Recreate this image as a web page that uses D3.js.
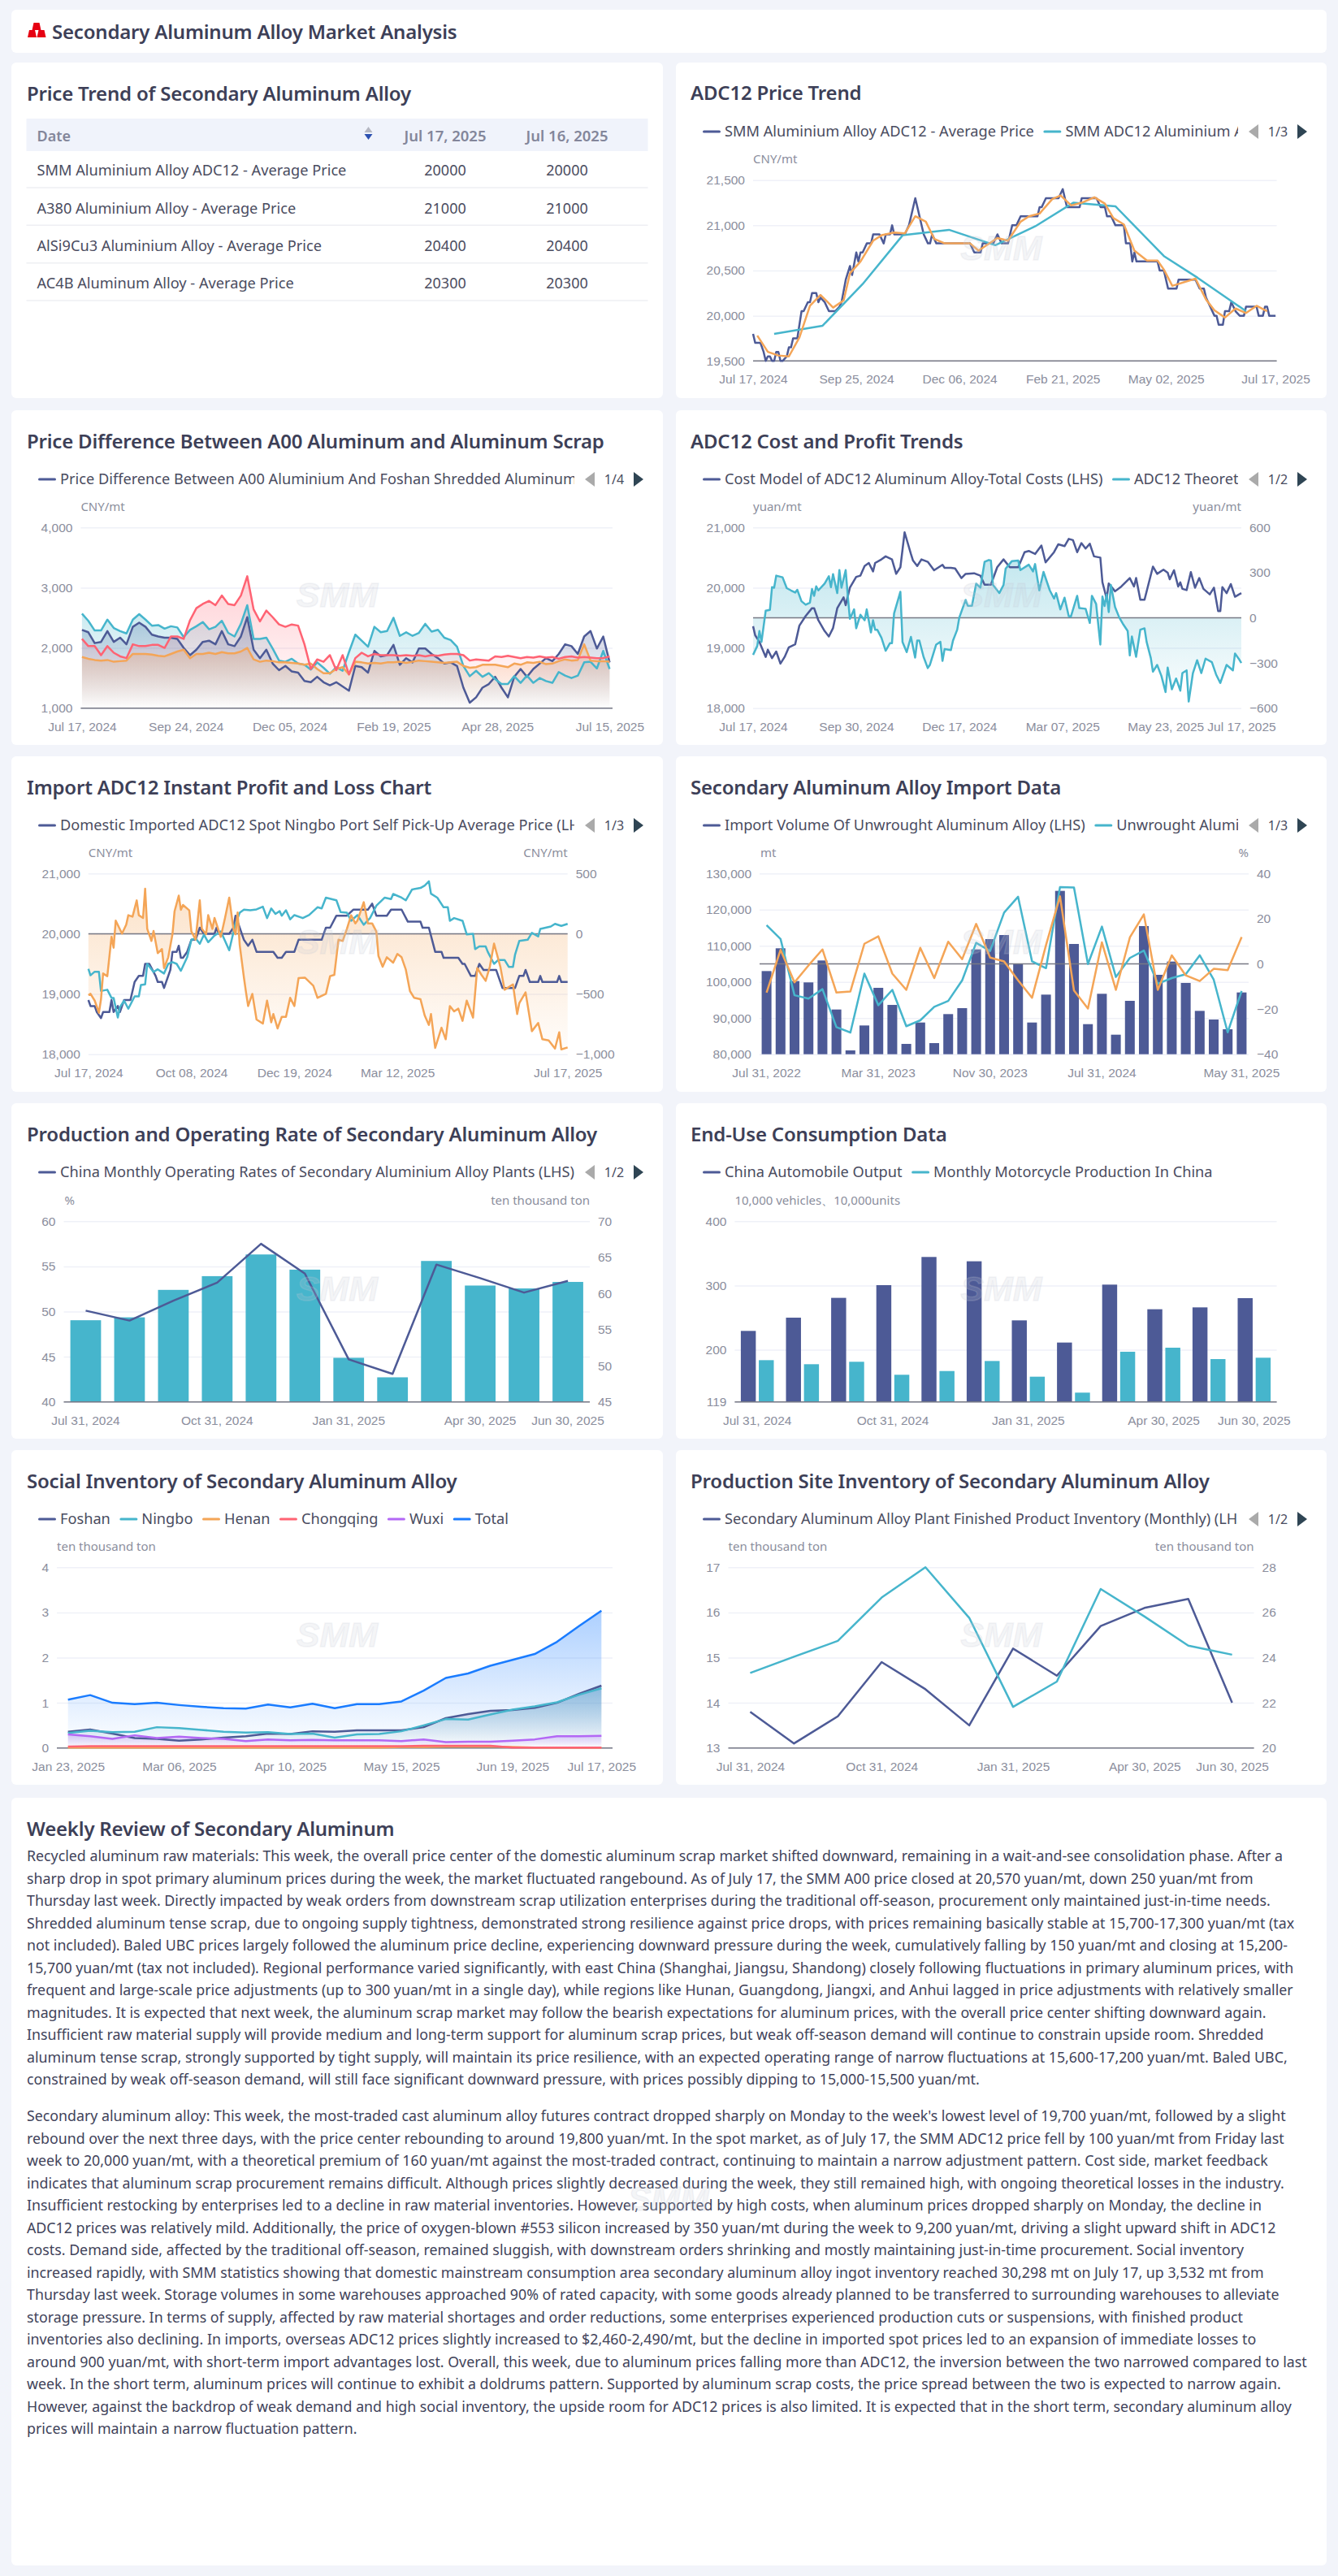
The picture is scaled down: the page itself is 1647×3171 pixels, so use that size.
<!DOCTYPE html>
<html>
<head>
<meta charset="utf-8">
<script src="https://cdn.jsdelivr.net/npm/d3@7"></script>
<style>
  html, body { margin: 0; padding: 0; background: #f2f4fa; }
  svg { display: block; font-family: "Noto Sans", sans-serif; }
</style>
</head>
<body>
<script>
// ---- data ----
const tableDates = ["Jul 17, 2025", "Jul 16, 2025"];
const tableNames = ["SMM Aluminium Alloy ADC12 - Average Price", "A380 Aluminium Alloy - Average Price", "AlSi9Cu3 Aluminium Alloy - Average Price", "AC4B Aluminum Alloy - Average Price"];
const tableToday = [20000, 21000, 20400, 20300];
const tableYesterday = [20000, 21000, 20400, 20300];

// trading day index, price
const adcSpot = [[0,19800],[1,19700],[3.5,19700],[5,19600],[6,19500],[7,19550],[8,19550],[9,19500],[10,19500],[11,19600],[12,19600],[13,19500],[14,19500],[16,19550],[17,19650],[18,19650],[19,19750],[21,19750],[22,19900],[23,20050],[24,20050],[26,20150],[27,20150],[28,20250],[30,20250],[31,20150],[32,20200],[34,20150],[36,20050],[39,20050],[41,20100],[42,20150],[44,20400],[46,20550],[47,20450],[49,20700],[50,20600],[51,20700],[52,20700],[54,20800],[56,20800],[57,20900],[60,20900],[62,20800],[63,20900],[65,20900],[66,21000],[67,20900],[72,20900],[74,21000],[77,21300],[79,21100],[81,20900],[83,20800],[84,20800],[85,20900],[87,20800],[103,20800],[105,20700],[108,20700],[109,20800],[114,20800],[116,20900],[118,20800],[121,20800],[123,21000],[125,21000],[127,21100],[135,21100],[136,21200],[137,21200],[139,21300],[145,21300],[147,21400],[148,21300],[149,21200],[155,21200],[156,21300],[163,21300],[165,21200],[167,21200],[168,21100],[170,21100],[172,21000],[176,21000],[177,20800],[179,20800],[180,20600],[181,20700],[182,20600],[192,20600],[193,20500],[195,20500],[197,20300],[201,20300],[202,20400],[210,20400],[212,20300],[214,20300],[215,20200],[217,20100],[219,20000],[220,20000],[221,19900],[223,19900],[224,20050],[226,20050],[227,20150],[229,20050],[231,20000],[233,20000],[234,20100],[239,20100],[240,20000],[242,20000],[243,20100],[244,20100],[245,20000],[248,20000]];
const adcMonthly = [[10,19800],[33,19890],[52,20350],[71,20890],[93,20950],[115,20780],[134,20990],[152,21250],[172,21210],[195,20660],[211,20420],[234,20050]];
const adcWeekly = [[2,19780],[7,19600],[12,19560],[17,19550],[22,19760],[27,20110],[32,20230],[38,20090],[43,20170],[46,20470],[51,20600],[57,20830],[61,20890],[67,20920],[72,20910],[77,21100],[82,21040],[86,20850],[91,20800],[103,20800],[107,20720],[116,20860],[121,20830],[127,21040],[131,21100],[136,21130],[142,21290],[146,21330],[151,21220],[156,21250],[162,21310],[167,21240],[171,21080],[176,21010],[181,20720],[187,20610],[192,20610],[195,20510],[199,20330],[210,20410],[215,20180],[219,20060],[224,19980],[229,20080],[234,20030],[239,20110],[244,20050]];

// sampled every third trading day
const diffFoshan = [2300,2260,2080,2100,2280,2100,2170,2060,2350,2420,2350,2220,2190,2170,2170,2150,2000,1880,1970,2100,2120,2060,2280,2060,2030,2190,2510,1970,1830,1970,1740,1630,1700,1610,1590,1450,1430,1520,1430,1380,1430,1360,1290,1700,1680,1590,1950,1860,1880,2050,1720,1830,1760,1990,1990,1900,1830,1740,1760,1700,1340,1090,1180,1340,1400,1520,1340,1180,1520,1650,1520,1650,1740,1830,1780,1900,2060,2030,1900,2190,2280,1990,2190,1760];
const diffNingbo = [2570,2450,2290,2290,2470,2330,2280,2240,2470,2560,2470,2370,2380,2320,2360,2340,2180,2300,2360,2430,2310,2350,2450,2250,2190,2400,2710,2150,2150,2170,1990,1790,1770,1820,1740,1720,1640,1760,1670,1570,1680,1620,1930,2220,2120,2020,2350,2260,2280,2500,2200,2260,2200,2250,2400,2270,2300,2170,2130,2020,1700,1530,1620,1520,1580,1480,1400,1400,1530,1420,1540,1420,1500,1450,1420,1600,1540,1500,1540,1760,1770,1660,1950,1650];
const diffHenan = [1850,1820,1800,1790,1800,1770,1780,1790,1900,1900,1900,1890,1870,1860,1900,1940,1970,1830,1900,1900,1920,1900,1930,1910,1910,1940,2000,1810,1770,1790,1780,1760,1760,1750,1740,1720,1740,1650,1580,1580,1650,1680,1560,1770,1760,1740,1750,1740,1760,1760,1770,1750,1770,1790,1780,1770,1760,1750,1760,1770,1700,1670,1680,1720,1720,1720,1700,1680,1740,1720,1760,1750,1770,1730,1740,1780,1810,1790,1800,2060,1790,1780,1780,1770];
const diffChongqing = [2150,2030,2030,1880,2030,1920,1860,1830,2060,2030,2030,2050,2050,2000,2190,2190,2150,2460,2660,2730,2780,2710,2870,2730,2710,2870,3190,2640,2440,2620,2510,2390,2350,2390,2370,2060,1650,1810,1770,1880,1630,1880,1560,1830,1920,1860,1900,1880,1880,1880,1870,1880,1870,1880,1860,1880,1870,1890,1900,1900,1880,1790,1810,1800,1790,1860,1850,1870,1850,1830,1850,1840,1860,1840,1850,1820,1850,1860,1840,1850,1840,1830,1830,1860];

const costTotal = [[0,19360],[1,19210],[3,19100],[6,18850],[7,18970],[9,18830],[11,18940],[13,18740],[15,18850],[17,19010],[20,19060],[22,19370],[25,19530],[28,19660],[29,19660],[31,19460],[34,19280],[36,19190],[38,19330],[40,19660],[43,19840],[44,19710],[46,20000],[49,20180],[51,20200],[53,20360],[55,20410],[57,20270],[58,20410],[61,20470],[63,20520],[66,20470],[68,20230],[70,20340],[72,20920],[75,20560],[76,20450],[78,20360],[80,20470],[83,20430],[86,20290],[90,20380],[91,20330],[94,20330],[96,20320],[99,20160],[101,20230],[105,20240],[108,20200],[110,20050],[113,20050],[116,20340],[119,20470],[122,20340],[126,20340],[129,20590],[131,20610],[134,20560],[137,20700],[139,20420],[143,20590],[145,20720],[148,20690],[150,20810],[152,20790],[154,20590],[156,20740],[158,20650],[160,20730],[162,20520],[165,20500],[166,20090],[168,19820],[169,20070],[172,19940],[175,20020],[179,20160],[181,20020],[182,20160],[184,19800],[186,19800],[190,20350],[192,20230],[195,20300],[197,20250],[198,20140],[200,20290],[202,20020],[203,20090],[204,19980],[206,19960],[208,20260],[210,20000],[212,20160],[214,19980],[217,19890],[219,20000],[221,19610],[222,19610],[223,20010],[225,19910],[227,20060],[229,19850],[232,19910]];
const costProfit = [[0,-246],[2,-187],[3,-88],[4,-160],[6,47],[8,53],[9,204],[10,200],[11,280],[14,269],[16,197],[18,182],[20,168],[21,186],[23,110],[25,87],[27,101],[28,191],[29,146],[30,209],[31,182],[34,227],[36,276],[37,204],[38,290],[40,164],[41,317],[42,200],[44,317],[45,146],[46,-7],[48,56],[49,-70],[51,20],[53,-16],[54,56],[56,-97],[57,-16],[58,-79],[59,-79],[61,-133],[63,-219],[65,-169],[66,-169],[67,29],[70,173],[71,-160],[73,-228],[75,-127],[77,-264],[78,-151],[79,-151],[81,-259],[83,-334],[84,-313],[87,-178],[89,-160],[90,-286],[91,-208],[94,-214],[95,-151],[97,-79],[98,2],[101,119],[102,80],[104,80],[106,227],[108,200],[110,371],[112,384],[113,380],[114,218],[117,164],[119,218],[120,326],[123,377],[126,380],[127,317],[131,353],[133,308],[134,357],[136,182],[138,305],[141,182],[143,128],[144,164],[146,56],[148,134],[150,11],[151,8],[154,146],[155,65],[158,60],[160,-34],[161,146],[163,92],[165,-178],[166,141],[167,78],[168,155],[169,38],[170,218],[172,71],[174,2],[176,-46],[178,-88],[179,-250],[180,-124],[182,-259],[184,-79],[186,-70],[187,-160],[189,-268],[190,-358],[192,-313],[194,-385],[196,-493],[197,-331],[199,-475],[201,-403],[203,-484],[204,-367],[206,-349],[207,-556],[209,-367],[211,-282],[213,-367],[215,-271],[218,-295],[220,-376],[222,-433],[225,-313],[228,-349],[229,-237],[231,-277],[232,-300]];

const importNingbo = [[0,18900],[1,18800],[3,18800],[4,18700],[6,18600],[7,18700],[10,18700],[11,18900],[12,18700],[14,18800],[15,18700],[17,18900],[20,18900],[22,19200],[24,19300],[26,19300],[27,19500],[29,19500],[32,19300],[33,19200],[35,19200],[36,19100],[39,19400],[40,19700],[42,19700],[43,19800],[44,19600],[45,19600],[47,19700],[49,19900],[51,19900],[53,20100],[55,20000],[60,20000],[61,20100],[62,20000],[67,20000],[69,20100],[70,20300],[74,19900],[76,19800],[78,19900],[80,19700],[88,19700],[90,19600],[92,19600],[94,19700],[98,19700],[100,19900],[111,19900],[113,20100],[115,20100],[118,20300],[123,20300],[126,20400],[133,20400],[135,20500],[137,20300],[142,20300],[144,20400],[149,20400],[152,20200],[158,20200],[159,20100],[162,20100],[165,19700],[168,19700],[169,19600],[176,19600],[178,19500],[179,19500],[182,19300],[184,19300],[186,19500],[188,19400],[194,19400],[195,19300],[197,19100],[203,19100],[205,19300],[207,19300],[208,19400],[210,19200],[214,19200],[215,19300],[216,19200],[223,19200],[224,19300],[225,19200],[228,19200]];
const importSpot = [[0,19417],[1,19310],[3,19370],[5,19370],[6,19050],[9,19070],[11,18935],[12,18935],[14,18610],[15,18780],[17,18890],[19,18755],[22,18960],[24,18960],[25,19150],[27,19160],[28,19500],[31,19365],[33,19410],[36,19340],[38,19500],[40,19530],[42,19500],[44,19385],[47,19610],[49,19900],[51,19925],[53,19835],[55,19985],[57,19860],[60,19970],[63,20040],[67,19725],[70,20170],[72,20350],[74,20400],[77,20390],[80,20405],[83,20450],[85,20260],[87,20420],[89,20330],[91,20375],[92,20300],[94,20390],[96,20240],[98,20310],[102,20260],[105,20310],[109,20440],[111,20420],[113,20600],[118,20555],[120,20360],[123,20350],[125,20215],[128,20310],[131,20150],[134,20260],[137,20465],[141,20600],[144,20575],[145,20660],[149,20600],[151,20555],[154,20735],[158,20760],[160,20800],[162,20870],[163,20665],[166,20600],[169,20440],[171,20440],[172,20215],[174,20260],[178,20215],[180,19990],[183,20000],[184,19745],[186,19790],[189,19790],[190,19700],[193,19500],[195,19565],[198,19565],[200,19450],[202,19450],[203,19655],[205,19880],[209,19900],[211,20015],[214,19955],[215,20080],[220,20120],[222,20165],[225,20130],[228,20165]];
const importProfit = [[0,-510],[1,-499],[3,-555],[5,-656],[6,-544],[7,-330],[9,-352],[11,-26],[12,-116],[13,109],[16,1],[18,75],[19,154],[21,142],[23,277],[24,154],[26,131],[27,374],[28,41],[30,-60],[31,23],[33,-161],[35,-127],[36,-285],[38,-195],[40,-4],[41,187],[43,316],[44,199],[45,239],[48,194],[49,19],[51,-49],[53,277],[54,41],[56,-4],[57,154],[59,41],[60,131],[63,-26],[65,131],[67,300],[69,41],[70,-4],[71,176],[72,-94],[74,-364],[75,-487],[76,-600],[78,-499],[80,-712],[83,-746],[85,-555],[87,-735],[88,-667],[90,-786],[92,-690],[94,-690],[96,-532],[98,-600],[100,-368],[103,-364],[107,-431],[109,-532],[113,-499],[115,-352],[117,-341],[119,-49],[121,-60],[123,41],[125,154],[127,86],[128,109],[131,262],[133,86],[135,86],[137,19],[138,-184],[140,-274],[142,-195],[145,-240],[147,-168],[149,-195],[151,-296],[153,-476],[155,-532],[158,-544],[160,-678],[162,-757],[163,-667],[165,-948],[168,-780],[170,-876],[172,-600],[174,-645],[176,-622],[178,-723],[180,-555],[183,-696],[185,-285],[187,-341],[189,-391],[191,-274],[193,-82],[196,-274],[198,-465],[202,-420],[204,-667],[205,-577],[208,-487],[211,-809],[214,-741],[216,-876],[219,-885],[222,-953],[224,-818],[225,-960],[228,-944]];

const importVolume = [103010,109310,100240,99870,105940,92370,81050,87950,98370,93640,82850,88770,83070,91100,92750,109010,111860,112980,104960,88770,96490,125200,110510,88320,96720,85400,94770,115460,101970,105640,99720,91990,89600,86900,97090];
const importYoy = [17.1,11,-13.9,-15.4,-11.2,-28,-30.4,-4.3,-18.3,-11.5,-27.6,-25,-19,-16.4,-7.3,9.3,5.7,22.7,29.7,1.1,-1.9,34,33.8,-0.1,16.5,-5.8,2.6,5.9,-8.8,-6.3,-4.6,3.8,-7,-30.3,-12];
const importMom = [-12.7,6.2,-8.2,-0.7,6.4,-12.7,-12.2,8.9,12.2,-4.3,-11.5,7.1,-6.3,9.8,2.1,17.7,2.8,1.1,-7.3,-15,8.3,29.9,-11.8,-19.8,9.5,-11.5,11.7,21.9,-11.5,3.8,-5.1,-7.6,-2.2,-2.8,11.9];

const operatingRate = [50.1,49,51.2,53.2,57.5,54.2,44.7,43.1,55.2,53.7,52.1,53.4];
const alloyOutput = [56.3,56.7,60.5,62.4,65.4,63.3,51.1,48.4,64.5,61.1,60.7,61.6];
const autoOutput = [229.4,250,280.8,300.6,344.4,337.7,245.8,211.3,301.4,263.1,266,280.4];
const motoOutput = [183.9,177.6,181.4,161.2,167,182.6,158.2,133.4,197,203.3,185.6,187.7];

const invFoshan = [.36,.41,.32,.22,.2,.16,.19,.23,.26,.32,.31,.37,.36,.39,.39,.39,.46,.66,.75,.82,.84,.89,1,1.2,1.38];
const invNingbo = [.33,.38,.35,.36,.46,.44,.4,.36,.34,.35,.31,.32,.23,.3,.31,.37,.5,.64,.63,.74,.85,.92,1.01,1.18,1.32];
const invHenan = [.01,.01,.01,.01,.01,.01,.01,.01,.01,.01,.01,.01,.01,.01,.01,.02,.02,.03,.03,.03,.02,.01,.01,.01,.01];
const invChongqing = [.03,.04,.04,.04,.04,.04,.04,.04,.04,.04,.04,.04,.04,.04,.04,.04,.05,.05,.05,.05,.01,.01,.01,.01,.01];
const invWuxi = [.3,.26,.2,.28,.22,.25,.22,.2,.15,.19,.17,.18,.17,.17,.17,.15,.19,.13,.14,.14,.16,.19,.26,.26,.27];
const invTotal = [1.07,1.17,1,.97,1,.95,.91,.88,.87,.96,.9,.98,.88,.97,.97,1.03,1.27,1.55,1.65,1.82,1.95,2.08,2.35,2.7,3.04];

const plantInventory = [13.8,13.1,13.7,14.9,14.3,13.5,15.2,14.6,15.7,16.1,16.3,14];
const rawInventory = [23.32,24.04,24.74,26.66,28,25.76,21.82,22.94,27.04,25.82,24.53,24.13];

const reviewPara1 = [
  "Recycled aluminum raw materials: This week, the overall price center of the domestic aluminum scrap market shifted downward, remaining in a wait-and-see consolidation phase. After a",
  "sharp drop in spot primary aluminum prices during the week, the market fluctuated rangebound. As of July 17, the SMM A00 price closed at 20,570 yuan/mt, down 250 yuan/mt from",
  "Thursday last week. Directly impacted by weak orders from downstream scrap utilization enterprises during the traditional off-season, procurement only maintained just-in-time needs.",
  "Shredded aluminum tense scrap, due to ongoing supply tightness, demonstrated strong resilience against price drops, with prices remaining basically stable at 15,700-17,300 yuan/mt (tax",
  "not included). Baled UBC prices largely followed the aluminum price decline, experiencing downward pressure during the week, cumulatively falling by 150 yuan/mt and closing at 15,200-",
  "15,700 yuan/mt (tax not included). Regional performance varied significantly, with east China (Shanghai, Jiangsu, Shandong) closely following fluctuations in primary aluminum prices, with",
  "frequent and large-scale price adjustments (up to 300 yuan/mt in a single day), while regions like Hunan, Guangdong, Jiangxi, and Anhui lagged in price adjustments with relatively smaller",
  "magnitudes. It is expected that next week, the aluminum scrap market may follow the bearish expectations for aluminum prices, with the overall price center shifting downward again.",
  "Insufficient raw material supply will provide medium and long-term support for aluminum scrap prices, but weak off-season demand will continue to constrain upside room. Shredded",
  "aluminum tense scrap, strongly supported by tight supply, will maintain its price resilience, with an expected operating range of narrow fluctuations at 15,600-17,200 yuan/mt. Baled UBC,",
  "constrained by weak off-season demand, will still face significant downward pressure, with prices possibly dipping to 15,000-15,500 yuan/mt."
];
const reviewPara2 = [
  "Secondary aluminum alloy: This week, the most-traded cast aluminum alloy futures contract dropped sharply on Monday to the week's lowest level of 19,700 yuan/mt, followed by a slight",
  "rebound over the next three days, with the price center rebounding to around 19,800 yuan/mt. In the spot market, as of July 17, the SMM ADC12 price fell by 100 yuan/mt from Friday last",
  "week to 20,000 yuan/mt, with a theoretical premium of 160 yuan/mt against the most-traded contract, continuing to maintain a narrow adjustment pattern. Cost side, market feedback",
  "indicates that aluminum scrap procurement remains difficult. Although prices slightly decreased during the week, they still remained high, with ongoing theoretical losses in the industry.",
  "Insufficient restocking by enterprises led to a decline in raw material inventories. However, supported by high costs, when aluminum prices dropped sharply on Monday, the decline in",
  "ADC12 prices was relatively mild. Additionally, the price of oxygen-blown #553 silicon increased by 350 yuan/mt during the week to 9,200 yuan/mt, driving a slight upward shift in ADC12",
  "costs. Demand side, affected by the traditional off-season, remained sluggish, with downstream orders shrinking and mostly maintaining just-in-time procurement. Social inventory",
  "increased rapidly, with SMM statistics showing that domestic mainstream consumption area secondary aluminum alloy ingot inventory reached 30,298 mt on July 17, up 3,532 mt from",
  "Thursday last week. Storage volumes in some warehouses approached 90% of rated capacity, with some goods already planned to be transferred to surrounding warehouses to alleviate",
  "storage pressure. In terms of supply, affected by raw material shortages and order reductions, some enterprises experienced production cuts or suspensions, with finished product",
  "inventories also declining. In imports, overseas ADC12 prices slightly increased to $2,460-2,490/mt, but the decline in imported spot prices led to an expansion of immediate losses to",
  "around 900 yuan/mt, with short-term import advantages lost. Overall, this week, due to aluminum prices falling more than ADC12, the inversion between the two narrowed compared to last",
  "week. In the short term, aluminum prices will continue to exhibit a doldrums pattern. Supported by aluminum scrap costs, the price spread between the two is expected to narrow again.",
  "However, against the backdrop of weak demand and high social inventory, the upside room for ADC12 prices is also limited. It is expected that in the short term, secondary aluminum alloy",
  "prices will maintain a narrow fluctuation pattern."
];

// ---- styling ----
const NAVY = "#4d5a96", TEAL = "#46b5cc", ORANGE = "#f4a557", RED = "#ff6373", PURPLE = "#b368f5", BLUE = "#1a7cff";
const TITLE_COLOR = "#3d3f57", LABEL_COLOR = "#8b8e9d", GRID = "#eff1f8", AXIS = "#777985", TEXT_COLOR = "#41435a";

const svg = d3.select("body").append("svg").attr("width", 1647).attr("height", 3171);
const defs = svg.append("defs");
let uid = 0;

svg.append("rect").attr("width", 1647).attr("height", 3171).attr("fill", "#f2f4fa");

function drawCard(x, y, w, h) {
  svg.append("rect").attr("x", x).attr("y", y).attr("width", w).attr("height", h)
    .attr("rx", 6).attr("fill", "#fff");
}

function drawTitle(x, y, text) {
  svg.append("text").attr("x", x).attr("y", y).attr("dy", ".35em")
    .attr("font-size", 24).attr("font-weight", 600).attr("fill", TITLE_COLOR)
    .style("letter-spacing", "-0.2px").text(text);
}

function drawWatermark(cx, cy) {
  svg.append("text").attr("x", cx).attr("y", cy).attr("dy", ".36em").attr("text-anchor", "middle")
    .attr("font-family", '"Liberation Sans", sans-serif').attr("font-size", 43)
    .attr("font-weight", 700).attr("font-style", "italic")
    .attr("fill", "#c6cad6").attr("fill-opacity", .2)
    .attr("stroke", "#c6cad6").attr("stroke-opacity", .2).attr("stroke-width", 1.5).text("SMM");
}

function drawLegend(card, entries, page) {
  const id = "legend" + (++uid);
  const right = page ? card.x + card.w - 109 : card.x + card.w - 10;
  defs.append("clipPath").attr("id", id).append("rect")
    .attr("x", card.x + 30).attr("y", card.y + 70).attr("width", right - card.x - 30).attr("height", 30);
  const g = svg.append("g").attr("clip-path", `url(#${id})`);
  const y = card.y + 85;
  let x = card.x + 34.5;
  entries.forEach(e => {
    g.append("line").attr("x1", x).attr("x2", x + 19).attr("y1", y).attr("y2", y)
      .attr("stroke", e.color).attr("stroke-width", 3).attr("stroke-linecap", "round");
    const t = g.append("text").attr("x", x + 25.5).attr("y", y).attr("dy", ".35em")
      .attr("font-size", 18.2).attr("fill", "#4a4c60").text(e.name);
    x += 25.5 + t.node().getComputedTextLength() + 13;
  });
  if (page) {
    const r = card.x + card.w;
    svg.append("path").attr("d", `M${r - 84},${y - 9}L${r - 96},${y}L${r - 84},${y + 9}Z`).attr("fill", "#aaa");
    svg.append("text").attr("x", r - 60).attr("y", y).attr("dy", ".35em").attr("text-anchor", "middle")
      .attr("font-size", 16).attr("fill", "#4a4c60").text(page);
    svg.append("path").attr("d", `M${r - 36},${y - 9}L${r - 24},${y}L${r - 36},${y + 9}Z`).attr("fill", "#2f4554");
  }
}

function styleAxisText(g) {
  g.selectAll("text").attr("fill", LABEL_COLOR).attr("font-size", 15.5).attr("font-family", null);
}

function drawLeftAxis(plot, y, ticks, fmt) {
  const g = svg.append("g").attr("transform", `translate(${plot.left},0)`)
    .call(d3.axisLeft(y).tickValues(ticks).tickSize(-(plot.right - plot.left)).tickPadding(10).tickFormat(fmt || d3.format(",")));
  g.select(".domain").remove();
  g.selectAll("line").attr("stroke", GRID).attr("stroke-width", 1.5);
  styleAxisText(g);
}

function drawRightAxis(plot, y, ticks, fmt) {
  const g = svg.append("g").attr("transform", `translate(${plot.right},0)`)
    .call(d3.axisRight(y).tickValues(ticks).tickSize(0).tickPadding(10).tickFormat(fmt || d3.format(",")));
  g.select(".domain").remove();
  styleAxisText(g);
}

function drawBottomAxis(plot, x, ticks, labels) {
  const g = svg.append("g").attr("transform", `translate(0,${plot.bottom})`)
    .call(d3.axisBottom(x).tickValues(ticks).tickSize(0).tickPadding(17).tickFormat((d, i) => labels[i]));
  g.select(".domain").remove();
  styleAxisText(g);
}

function drawBaseline(plot, y) {
  svg.append("line").attr("x1", plot.left).attr("x2", plot.right).attr("y1", y).attr("y2", y)
    .attr("stroke", AXIS).attr("stroke-width", 1.5);
}

function drawUnits(plot, y, left, right, leftX, rightX) {
  if (left) svg.append("text").attr("x", leftX === undefined ? plot.left : leftX).attr("y", y).attr("dy", ".35em")
    .attr("font-size", 15).attr("fill", LABEL_COLOR).text(left);
  if (right) svg.append("text").attr("x", rightX === undefined ? plot.right : rightX).attr("y", y).attr("dy", ".35em")
    .attr("text-anchor", "end").attr("font-size", 15).attr("fill", LABEL_COLOR).text(right);
}

function gradient(color, top, bottom) {
  const id = "grad" + (++uid);
  const lg = defs.append("linearGradient").attr("id", id).attr("x1", 0).attr("y1", 0).attr("x2", 0).attr("y2", 1);
  lg.append("stop").attr("offset", 0).attr("stop-color", color).attr("stop-opacity", top);
  lg.append("stop").attr("offset", 1).attr("stop-color", color).attr("stop-opacity", bottom);
  return `url(#${id})`;
}

// data is a list of [x, value] pairs
function drawLine(data, x, y, color) {
  svg.append("path").datum(data).attr("fill", "none").attr("stroke", color).attr("stroke-width", 2.5)
    .attr("stroke-linejoin", "round")
    .attr("d", d3.line().x(d => x(d[0])).y(d => y(d[1])));
}

function drawArea(data, x, y, base, color, top, bottom) {
  svg.append("path").datum(data).attr("fill", gradient(color, top, bottom))
    .attr("d", d3.area().x(d => x(d[0])).y0(base).y1(d => y(d[1])));
}

const every3 = arr => arr.map((v, i) => [i * 3, v]);
const byIndex = arr => arr.map((v, i) => [i, v]);

// ---- page header ----
drawCard(14, 12, 1619, 53);
[[45, 28], [39.5, 37], [51, 37]].forEach(([a, b]) => {
  svg.append("path").attr("d", `M${a - 3.5},${b}h7l2,9h-11z`).attr("fill", "#e60012");
});
drawTitle(64, 40, "Secondary Aluminum Alloy Market Analysis");

// ---- price table ----
const cardA = { x: 14, y: 77, w: 802, h: 413 };
drawCard(cardA.x, cardA.y, cardA.w, cardA.h);
drawTitle(33, 116, "Price Trend of Secondary Aluminum Alloy");
svg.append("rect").attr("x", 32.5).attr("y", 146).attr("width", 765).attr("height", 40).attr("fill", "#f0f3fb");
svg.append("text").attr("x", 45.5).attr("y", 168).attr("dy", ".35em").attr("font-size", 18).attr("font-weight", 600)
  .attr("fill", "#83869a").text("Date");
svg.append("path").attr("d", "M453.5,156l5,7h-10z").attr("fill", "#b5b7c2");
svg.append("path").attr("d", "M453.5,172l5,-7h-10z").attr("fill", "#2c50b0");
const colX = d3.scalePoint().domain(tableDates).range([548, 698]);
tableDates.forEach(d => {
  svg.append("text").attr("x", colX(d)).attr("y", 168).attr("dy", ".35em").attr("text-anchor", "middle")
    .attr("font-size", 18.5).attr("font-weight", 600).attr("fill", "#83869a").text(d);
});
const rowY = d3.scalePoint().domain(tableNames).range([210, 349]);
tableNames.forEach((name, i) => {
  const y = rowY(name);
  svg.append("text").attr("x", 45.5).attr("y", y).attr("dy", ".35em").attr("font-size", 18.2).attr("fill", "#4a4c60").text(name);
  svg.append("text").attr("x", colX(tableDates[0])).attr("y", y).attr("dy", ".35em").attr("text-anchor", "middle")
    .attr("font-size", 18).attr("fill", "#4a4c60").text(tableToday[i]);
  svg.append("text").attr("x", colX(tableDates[1])).attr("y", y).attr("dy", ".35em").attr("text-anchor", "middle")
    .attr("font-size", 18).attr("fill", "#4a4c60").text(tableYesterday[i]);
  svg.append("line").attr("x1", 32.5).attr("x2", 797.5).attr("y1", y + 21).attr("y2", y + 21)
    .attr("stroke", "#eeeff3").attr("stroke-width", 1.5);
});

// ---- ADC12 price trend ----
{
  const card = { x: 832, y: 77, w: 801, h: 413 };
  const plot = { left: 927, right: 1571.6, top: 221.7, bottom: 444.3 };
  drawCard(card.x, card.y, card.w, card.h);
  drawTitle(850, 115, "ADC12 Price Trend");
  drawLegend(card, [{ name: "SMM Aluminium Alloy ADC12 - Average Price", color: NAVY }, { name: "SMM ADC12 Aluminium A", color: TEAL }], "1/3");
  drawUnits(plot, 196, "CNY/mt");
  const x = d3.scaleLinear().domain([0, 248]).range([plot.left, plot.right - 1.5]);
  const y = d3.scaleLinear().domain([19500, 21500]).range([plot.bottom, plot.top]);
  drawLeftAxis(plot, y, [19500, 20000, 20500, 21000, 21500]);
  drawBaseline(plot, plot.bottom);
  drawBottomAxis(plot, x, [0, 49, 98, 147, 196, 248], ["Jul 17, 2024", "Sep 25, 2024", "Dec 06, 2024", "Feb 21, 2025", "May 02, 2025", "Jul 17, 2025"]);
  drawLine(adcSpot, x, y, NAVY);
  drawLine(adcMonthly, x, y, TEAL);
  drawLine(adcWeekly, x, y, ORANGE);
  drawWatermark(card.x + card.w / 2, card.y + card.h / 2 + 21);
}

// ---- A00 / scrap price difference ----
{
  const card = { x: 14, y: 505, w: 802, h: 412 };
  const plot = { left: 99.4, right: 754, top: 649.3, bottom: 871.7 };
  drawCard(card.x, card.y, card.w, card.h);
  drawTitle(33, 544, "Price Difference Between A00 Aluminum and Aluminum Scrap");
  drawLegend(card, [{ name: "Price Difference Between A00 Aluminium And Foshan Shredded Aluminum T", color: NAVY }], "1/4");
  drawUnits(plot, 624, "CNY/mt");
  const x = d3.scaleLinear().domain([0, 250]).range([plot.left + 1.5, plot.right - 1]);
  const y = d3.scaleLinear().domain([1000, 4000]).range([plot.bottom, plot.top]);
  drawLeftAxis(plot, y, [1000, 2000, 3000, 4000]);
  const series = [[diffFoshan, NAVY], [diffNingbo, TEAL], [diffHenan, ORANGE], [diffChongqing, RED]];
  series.forEach(([s, c]) => drawArea(every3(s), x, y, plot.bottom, c, .3, 0));
  drawBaseline(plot, plot.bottom);
  drawBottomAxis(plot, x, [0, 49, 98, 147, 196, 249], ["Jul 17, 2024", "Sep 24, 2024", "Dec 05, 2024", "Feb 19, 2025", "Apr 28, 2025", "Jul 15, 2025"]);
  series.forEach(([s, c]) => drawLine(every3(s), x, y, c));
  drawWatermark(card.x + card.w / 2, card.y + card.h / 2 + 21);
}

// ---- ADC12 cost and profit ----
{
  const card = { x: 832, y: 505, w: 801, h: 412 };
  const plot = { left: 927, right: 1528, top: 649.3, bottom: 871.7 };
  drawCard(card.x, card.y, card.w, card.h);
  drawTitle(850, 544, "ADC12 Cost and Profit Trends");
  drawLegend(card, [{ name: "Cost Model of ADC12 Aluminum Alloy-Total Costs (LHS)", color: NAVY }, { name: "ADC12 Theoret", color: TEAL }], "1/2");
  drawUnits(plot, 624, "yuan/mt", "yuan/mt");
  const x = d3.scaleLinear().domain([0, 232]).range([plot.left, plot.right]);
  const y = d3.scaleLinear().domain([18000, 21000]).range([plot.bottom, plot.top]);
  const y2 = d3.scaleLinear().domain([-600, 600]).range([plot.bottom, plot.top]);
  drawLeftAxis(plot, y, [18000, 19000, 20000, 21000]);
  drawRightAxis(plot, y2, [-600, -300, 0, 300, 600]);
  drawBottomAxis(plot, x, [0, 49, 98, 147, 196, 232], ["Jul 17, 2024", "Sep 30, 2024", "Dec 17, 2024", "Mar 07, 2025", "May 23, 2025", "Jul 17, 2025"]);
  drawArea(costProfit, x, y2, y2(0), TEAL, .32, .02);
  drawBaseline(plot, y2(0));
  drawLine(costTotal, x, y, NAVY);
  drawLine(costProfit, x, y2, TEAL);
  drawWatermark(card.x + card.w / 2, card.y + card.h / 2 + 21);
}

// ---- import profit and loss ----
{
  const card = { x: 14, y: 931, w: 802, h: 413 };
  const plot = { left: 108.8, right: 698.7, top: 1075.3, bottom: 1297.7 };
  drawCard(card.x, card.y, card.w, card.h);
  drawTitle(33, 970, "Import ADC12 Instant Profit and Loss Chart");
  drawLegend(card, [{ name: "Domestic Imported ADC12 Spot Ningbo Port Self Pick-Up Average Price (LH", color: NAVY }], "1/3");
  drawUnits(plot, 1050, "CNY/mt", "CNY/mt");
  const x = d3.scaleLinear().domain([0, 228]).range([plot.left, plot.right]);
  const y = d3.scaleLinear().domain([18000, 21000]).range([plot.bottom, plot.top]);
  const y2 = d3.scaleLinear().domain([-1000, 500]).range([plot.bottom, plot.top]);
  drawLeftAxis(plot, y, [18000, 19000, 20000, 21000]);
  drawRightAxis(plot, y2, [-1000, -500, 0, 500]);
  drawBottomAxis(plot, x, [0, 49, 98, 147, 228], ["Jul 17, 2024", "Oct 08, 2024", "Dec 19, 2024", "Mar 12, 2025", "Jul 17, 2025"]);
  drawArea(importProfit, x, y2, y2(0), ORANGE, .32, .03);
  drawBaseline(plot, y2(0));
  drawLine(importNingbo, x, y, NAVY);
  drawLine(importSpot, x, y, TEAL);
  drawLine(importProfit, x, y2, ORANGE);
  drawWatermark(card.x + card.w / 2, card.y + card.h / 2 + 21);
}

// ---- import volume ----
{
  const card = { x: 832, y: 931, w: 801, h: 413 };
  const plot = { left: 935, right: 1537, top: 1075.3, bottom: 1297.7 };
  drawCard(card.x, card.y, card.w, card.h);
  drawTitle(850, 970, "Secondary Aluminum Alloy Import Data");
  drawLegend(card, [{ name: "Import Volume Of Unwrought Aluminum Alloy (LHS)", color: NAVY }, { name: "Unwrought Alumin", color: TEAL }], "1/3");
  drawUnits(plot, 1050, "mt", "%", plot.left + 1);
  const x = d3.scaleBand().domain(d3.range(importVolume.length)).range([plot.left, plot.right]).paddingInner(.3).paddingOuter(.15);
  const y = d3.scaleLinear().domain([80000, 130000]).range([plot.bottom, plot.top]);
  const y2 = d3.scaleLinear().domain([-40, 40]).range([plot.bottom, plot.top]);
  drawLeftAxis(plot, y, d3.range(80000, 130001, 10000));
  drawRightAxis(plot, y2, [-40, -20, 0, 20, 40]);
  drawBottomAxis(plot, x, [0, 8, 16, 24, 34], ["Jul 31, 2022", "Mar 31, 2023", "Nov 30, 2023", "Jul 31, 2024", "May 31, 2025"]);
  svg.append("g").selectAll("rect").data(importVolume).join("rect")
    .attr("x", (d, i) => x(i)).attr("width", x.bandwidth())
    .attr("y", d => y(d)).attr("height", d => plot.bottom - y(d)).attr("fill", NAVY);
  drawBaseline(plot, y2(0));
  const cx = i => x(i) + x.bandwidth() / 2;
  drawLine(byIndex(importYoy), cx, y2, TEAL);
  drawLine(byIndex(importMom), cx, y2, ORANGE);
  drawWatermark(card.x + card.w / 2, card.y + card.h / 2 + 21);
}

// ---- production and operating rate ----
{
  const card = { x: 14, y: 1358, w: 802, h: 413 };
  const plot = { left: 78.5, right: 726, top: 1503.3, bottom: 1725.7 };
  drawCard(card.x, card.y, card.w, card.h);
  drawTitle(33, 1397, "Production and Operating Rate of Secondary Aluminum Alloy");
  drawLegend(card, [{ name: "China Monthly Operating Rates of Secondary Aluminium Alloy Plants (LHS)", color: NAVY }], "1/2");
  drawUnits(plot, 1477.7, "%", "ten thousand ton", plot.left + 1);
  const x = d3.scaleBand().domain(d3.range(12)).range([plot.left, plot.right]).paddingInner(.3).paddingOuter(.15);
  const y = d3.scaleLinear().domain([40, 60]).range([plot.bottom, plot.top]);
  const y2 = d3.scaleLinear().domain([45, 70]).range([plot.bottom, plot.top]);
  drawLeftAxis(plot, y, [40, 45, 50, 55, 60]);
  drawRightAxis(plot, y2, [45, 50, 55, 60, 65, 70]);
  drawBottomAxis(plot, x, [0, 3, 6, 9, 11], ["Jul 31, 2024", "Oct 31, 2024", "Jan 31, 2025", "Apr 30, 2025", "Jun 30, 2025"]);
  svg.append("g").selectAll("rect").data(alloyOutput).join("rect")
    .attr("x", (d, i) => x(i)).attr("width", x.bandwidth())
    .attr("y", d => y2(d)).attr("height", d => plot.bottom - y2(d)).attr("fill", TEAL);
  drawBaseline(plot, plot.bottom);
  drawLine(byIndex(operatingRate), i => x(i) + x.bandwidth() / 2, y, NAVY);
  drawWatermark(card.x + card.w / 2, card.y + card.h / 2 + 21);
}

// ---- end-use consumption ----
{
  const card = { x: 832, y: 1358, w: 801, h: 413 };
  const plot = { left: 904.4, right: 1571.6, top: 1503.3, bottom: 1725.7 };
  drawCard(card.x, card.y, card.w, card.h);
  drawTitle(850, 1397, "End-Use Consumption Data");
  drawLegend(card, [{ name: "China Automobile Output", color: NAVY }, { name: "Monthly Motorcycle Production In China", color: TEAL }]);
  drawUnits(plot, 1477.7, "10,000 vehicles、10,000units");
  const x = d3.scaleBand().domain(d3.range(12)).range([plot.left, plot.right]).paddingInner(.27).paddingOuter(.135);
  const x1 = d3.scaleBand().domain([0, 1]).range([0, x.bandwidth()]).paddingInner(.167);
  const y = d3.scaleLinear().domain([119, 400]).range([plot.bottom, plot.top]);
  drawLeftAxis(plot, y, [119, 200, 300, 400]);
  drawBottomAxis(plot, x, [0, 3, 6, 9, 11], ["Jul 31, 2024", "Oct 31, 2024", "Jan 31, 2025", "Apr 30, 2025", "Jun 30, 2025"]);
  [[autoOutput, NAVY], [motoOutput, TEAL]].forEach(([s, c], k) => {
    svg.append("g").selectAll("rect").data(s).join("rect")
      .attr("x", (d, i) => x(i) + x1(k)).attr("width", x1.bandwidth())
      .attr("y", d => y(d)).attr("height", d => plot.bottom - y(d)).attr("fill", c);
  });
  drawBaseline(plot, plot.bottom);
  drawWatermark(card.x + card.w / 2, card.y + card.h / 2 + 21);
}

// ---- social inventory ----
{
  const card = { x: 14, y: 1785, w: 802, h: 412 };
  const plot = { left: 70, right: 754, top: 1929.3, bottom: 2151.7 };
  drawCard(card.x, card.y, card.w, card.h);
  drawTitle(33, 1824, "Social Inventory of Secondary Aluminum Alloy");
  const series = [["Foshan", invFoshan, NAVY], ["Ningbo", invNingbo, TEAL], ["Henan", invHenan, ORANGE], ["Chongqing", invChongqing, RED], ["Wuxi", invWuxi, PURPLE], ["Total", invTotal, BLUE]];
  drawLegend(card, series.map(s => ({ name: s[0], color: s[2] })));
  drawUnits(plot, 1904, "ten thousand ton");
  const x = d3.scalePoint().domain(d3.range(25)).range([plot.left, plot.right]).padding(.5);
  const y = d3.scaleLinear().domain([0, 4]).range([plot.bottom, plot.top]);
  drawLeftAxis(plot, y, [0, 1, 2, 3, 4], d3.format("d"));
  series.forEach(s => drawArea(byIndex(s[1]), x, y, plot.bottom, s[2], s[0] === "Total" ? .36 : .3, 0));
  drawBaseline(plot, plot.bottom);
  drawBottomAxis(plot, x, [0, 5, 10, 15, 20, 24], ["Jan 23, 2025", "Mar 06, 2025", "Apr 10, 2025", "May 15, 2025", "Jun 19, 2025", "Jul 17, 2025"]);
  series.forEach(s => drawLine(byIndex(s[1]), x, y, s[2]));
  drawWatermark(card.x + card.w / 2, card.y + card.h / 2 + 21);
}

// ---- production site inventory ----
{
  const card = { x: 832, y: 1785, w: 801, h: 412 };
  const plot = { left: 896.5, right: 1543.6, top: 1929.3, bottom: 2151.7 };
  drawCard(card.x, card.y, card.w, card.h);
  drawTitle(850, 1824, "Production Site Inventory of Secondary Aluminum Alloy");
  drawLegend(card, [{ name: "Secondary Aluminum Alloy Plant Finished Product Inventory (Monthly) (LHS", color: NAVY }], "1/2");
  drawUnits(plot, 1904, "ten thousand ton", "ten thousand ton");
  const x = d3.scalePoint().domain(d3.range(12)).range([plot.left, plot.right]).padding(.5);
  const y = d3.scaleLinear().domain([13, 17]).range([plot.bottom, plot.top]);
  const y2 = d3.scaleLinear().domain([20, 28]).range([plot.bottom, plot.top]);
  drawLeftAxis(plot, y, [13, 14, 15, 16, 17], d3.format("d"));
  drawRightAxis(plot, y2, [20, 22, 24, 26, 28], d3.format("d"));
  drawBaseline(plot, plot.bottom);
  drawBottomAxis(plot, x, [0, 3, 6, 9, 11], ["Jul 31, 2024", "Oct 31, 2024", "Jan 31, 2025", "Apr 30, 2025", "Jun 30, 2025"]);
  drawLine(byIndex(plantInventory), x, y, NAVY);
  drawLine(byIndex(rawInventory), x, y2, TEAL);
  drawWatermark(card.x + card.w / 2, card.y + card.h / 2 + 21);
}

// ---- weekly review ----
drawCard(14, 2213, 1619, 945);
drawTitle(33, 2252, "Weekly Review of Secondary Aluminum");
const drawPara = (lines, top) => lines.forEach((line, i) => {
  svg.append("text").attr("x", 33).attr("y", top + i * 27.5).attr("dy", ".35em")
    .attr("font-size", 17.8).attr("fill", TEXT_COLOR).text(line);
});
drawPara(reviewPara1, 2285);
drawPara(reviewPara2, 2605);
drawWatermark(823, 2706);
</script>
</body>
</html>
